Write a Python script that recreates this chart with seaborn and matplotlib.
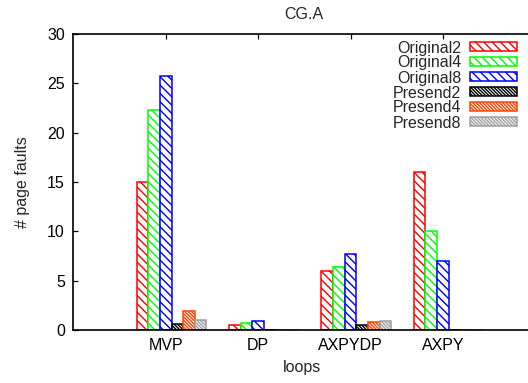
import matplotlib
matplotlib.use("Agg")
import matplotlib.pyplot as plt
from matplotlib.patches import Patch
import seaborn as sns
import pandas as pd

# Page-fault counts per loop kernel for the CG.A benchmark
loops = ["MVP", "DP", "AXPYDP", "AXPY"]
original2 = [15.0, 0.5, 6.0, 16.0]
original4 = [22.3, 0.75, 6.4, 10.0]
original8 = [25.7, 0.9, 7.7, 7.0]
presend2 = [0.6, 0.0, 0.55, 0.0]
presend4 = [1.9, 0.0, 0.8, 0.0]
presend8 = [1.0, 0.0, 0.9, 0.0]

series_names = ["Original2", "Original4", "Original8",
                "Presend2", "Presend4", "Presend8"]
series_values = [original2, original4, original8,
                 presend2, presend4, presend8]
series_colors = ["#ff0000", "#00ff00", "#0000ff",
                 "#000000", "#ff4500", "#a0a0a0"]
sparse = "\\" * 4
dense = "\\" * 10
series_hatches = [sparse, sparse, sparse, dense, dense, dense]

df = pd.DataFrame([
    {"loop": lp, "series": name, "faults": v}
    for name, vals in zip(series_names, series_values)
    for lp, v in zip(loops, vals)
])

sns.set_style("ticks")
plt.rcParams["font.family"] = ["Liberation Sans", "DejaVu Sans"]
plt.rcParams["hatch.linewidth"] = 1.0

FS = 11.5
GROUP_W = 0.754            # six bars side by side
HALF_BAR = GROUP_W / 12    # tick sits half a bar left of the group centre

fig = plt.figure(figsize=(5.28, 3.83), dpi=100)
ax = fig.add_axes([73.3 / 528, 53 / 383, 462 / 528, 296 / 383])

sns.barplot(data=df, x="loop", y="faults", hue="series",
            order=loops, hue_order=series_names,
            palette=series_colors, width=GROUP_W, gap=0,
            errorbar=None, ax=ax, legend=False)

for container, color, hatch in zip(ax.containers, series_colors, series_hatches):
    for patch in container:
        patch.set_facecolor("white")
        patch.set_edgecolor(color)
        patch.set_hatch(hatch)
        patch.set_linewidth(1.1)

ax.set_xlim(-1 - HALF_BAR, 4 - HALF_BAR)
ax.set_xticks([i - HALF_BAR for i in range(len(loops))], loops)
ax.set_ylim(0, 30)
ax.set_yticks([0, 5, 10, 15, 20, 25, 30])

for side in ["left", "bottom", "top", "right"]:
    ax.spines[side].set_visible(True)
    ax.spines[side].set_linewidth(1.2)
    ax.spines[side].set_color("black")

ax.tick_params(axis="both", direction="in", length=3.6, width=0.9,
               labelsize=FS, colors="black", top=True, right=True)
ax.tick_params(axis="y", pad=6)
ax.tick_params(axis="x", pad=6)

ax.set_title("CG.A", fontsize=FS, pad=11)
ax.set_xlabel("loops", fontsize=FS)
ax.set_ylabel("# page faults", fontsize=FS)
ax.xaxis.set_label_coords(0.495, -0.1)
ax.yaxis.set_label_coords(-0.094, 0.5)

handles = [Patch(facecolor="white", edgecolor=c, hatch=h, linewidth=1.1)
           for c, h in zip(series_colors, series_hatches)]
ax.legend(handles, series_names, loc="upper right",
          bbox_to_anchor=(517 / 528, 1 - 40.5 / 383),
          bbox_transform=fig.transFigure,
          frameon=False, markerfirst=False, fontsize=FS,
          borderpad=0, borderaxespad=0, labelspacing=0.0,
          handlelength=2.95, handleheight=0.5, handletextpad=0.55)

fig.savefig("out.png", dpi=100)
